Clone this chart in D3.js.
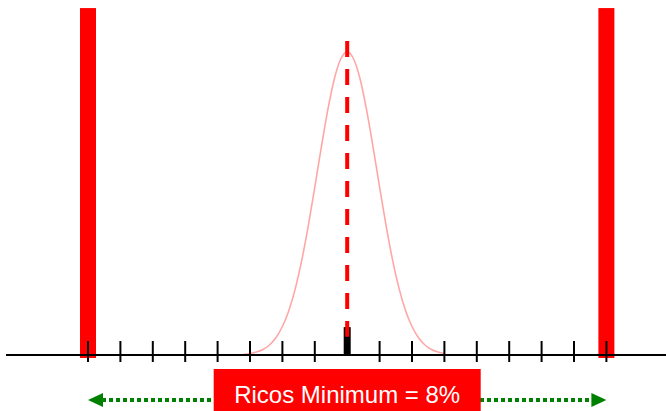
<!DOCTYPE html>
<html>
<head>
<meta charset="utf-8">
<script src="https://cdn.jsdelivr.net/npm/d3@7"></script>
<style>
  body { margin: 0; background: #fff; }
  svg { display: block; }
</style>
</head>
<body>
<svg id="chart"></svg>
<script>
// tick positions along the axis (in sigma-ish units)
const tickValues = [-8, -7, -6, -5, -4, -3, -2, -1, 0, 1, 2, 3, 4, 5, 6, 7, 8];
// red limit bars at both ends
const limitX = [-8, 8];
const limitHeight = 1.145;
// black target bar at centre
const targetX = 0;
const targetHeight = 0.092;
// dashed mean line
const meanX = 0;
const meanTop = 1.036;
const meanBottom = 0.06;
// bell curve
const curveX = [-3.2, -3.0, -2.8, -2.6, -2.4, -2.2, -2.0, -1.8, -1.6, -1.4, -1.2, -1.0, -0.8, -0.6, -0.4, -0.2, 0,
  0.2, 0.4, 0.6, 0.8, 1.0, 1.2, 1.4, 1.6, 1.8, 2.0, 2.2, 2.4, 2.6, 2.8, 3.0];
const curveY = [0.002, 0.005, 0.010, 0.018, 0.033, 0.057, 0.094, 0.147, 0.220, 0.314, 0.427, 0.554, 0.685, 0.808, 0.910, 0.977, 1,
  0.977, 0.910, 0.808, 0.685, 0.554, 0.427, 0.314, 0.220, 0.147, 0.094, 0.057, 0.033, 0.018, 0.010, 0.005];
const labelText = "Ricos Minimum = 8%";

const W = 666, H = 411;
const svg = d3.select("#chart").attr("width", W).attr("height", H);

const x = d3.scaleLinear().domain([-8, 8]).range([88, 606.4]);
const y = d3.scaleLinear().domain([0, 1]).range([355, 52]);

// limit bars
svg.selectAll("rect.limit").data(limitX).join("rect").attr("class", "limit")
  .attr("x", d => x(d) - 8).attr("width", 16)
  .attr("y", y(limitHeight)).attr("height", y(0) - y(limitHeight) + 3)
  .attr("fill", "#ff0000");

// bell curve
const pts = curveX.map((v, i) => [v, curveY[i]]);
const line = d3.line().x(d => x(d[0])).y(d => y(d[1])).curve(d3.curveMonotoneX);
svg.append("path").datum(pts).attr("d", line)
  .attr("fill", "none").attr("stroke", "#ff0000").attr("stroke-opacity", 0.35).attr("stroke-width", 1.6);

// axis line + ticks
svg.append("line").attr("x1", 6).attr("x2", 666).attr("y1", y(0)).attr("y2", y(0))
  .attr("stroke", "#000").attr("stroke-width", 2);
svg.selectAll("line.tick").data(tickValues.filter(d => d !== targetX)).join("line").attr("class", "tick")
  .attr("x1", d => x(d)).attr("x2", d => x(d))
  .attr("y1", y(0) - 14).attr("y2", y(0) + 7)
  .attr("stroke", "#000").attr("stroke-width", 2);

// target bar
svg.append("rect").attr("x", x(targetX) - 3.5).attr("width", 7)
  .attr("y", y(targetHeight)).attr("height", y(0) - y(targetHeight))
  .attr("fill", "#000");

// dashed mean line
svg.append("line").attr("x1", x(meanX)).attr("x2", x(meanX))
  .attr("y1", y(meanTop)).attr("y2", y(meanBottom))
  .attr("stroke", "#ff0000").attr("stroke-width", 4).attr("stroke-dasharray", "16,12");

// green dotted double arrow
const ay = 400;
svg.append("line").attr("x1", x(-8) + 14).attr("x2", x(8) - 14).attr("y1", ay).attr("y2", ay)
  .attr("stroke", "#008000").attr("stroke-width", 4).attr("stroke-dasharray", "4,3");
svg.append("path").attr("d", `M${x(-8)},${ay} L${x(-8) + 15},${ay - 7} L${x(-8) + 15},${ay + 7} Z`).attr("fill", "#008000");
svg.append("path").attr("d", `M${x(8)},${ay} L${x(8) - 15},${ay - 7} L${x(8) - 15},${ay + 7} Z`).attr("fill", "#008000");

// label box
const bw = 267;
svg.append("rect").attr("x", x(0) - bw / 2).attr("y", 369).attr("width", bw).attr("height", 42).attr("fill", "#ff0000");
svg.append("text").attr("x", x(0)).attr("y", 403).attr("text-anchor", "middle")
  .attr("font-family", "Liberation Sans, Arial, sans-serif").attr("font-size", 24).attr("fill", "#fff")
  .text(labelText);
</script>
</body>
</html>
